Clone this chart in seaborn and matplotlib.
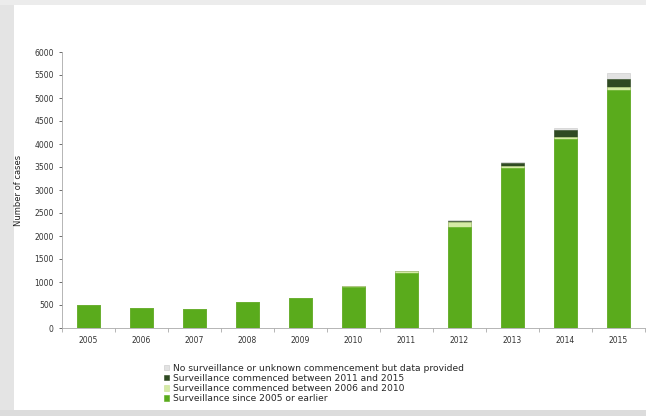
import matplotlib
matplotlib.use("Agg")
import matplotlib.pyplot as plt
import matplotlib.patches as mpatches
import numpy as np
import pandas as pd
import seaborn as sns

years = ["2005", "2006", "2007", "2008", "2009", "2010", "2011", "2012", "2013", "2014", "2015"]
since_2005 = [500, 440, 410, 560, 650, 900, 1200, 2200, 3480, 4100, 5170]
from_2006_2010 = [0, 0, 0, 0, 10, 20, 30, 100, 40, 50, 80]
from_2011_2015 = [0, 0, 0, 0, 0, 0, 20, 30, 70, 150, 160]
no_surveillance = [0, 0, 0, 0, 0, 0, 0, 20, 20, 50, 140]

labels = [
    "Surveillance since 2005 or earlier",
    "Surveillance commenced between 2006 and 2010",
    "Surveillance commenced between 2011 and 2015",
    "No surveillance or unknown commencement but data provided",
]
colors = ["#5aab1c", "#d5eaa6", "#2f4a22", "#e2e2e2"]
edges = ["#5aab1c", "#c8e090", "#2f4a22", "#c8c8c8"]

sns.set_theme(style="ticks")
plt.rcParams["font.family"] = ["DejaVu Sans"]

series = [since_2005, from_2006_2010, from_2011_2015, no_surveillance]
cum = np.cumsum(np.array(series, dtype=float), axis=0)

fig = plt.figure(figsize=(6.46, 4.16), dpi=100)
ax = fig.add_axes([62 / 646, 1 - 328 / 416, (645 - 62) / 646, (328 - 52) / 416])

for i in range(3, -1, -1):
    df = pd.DataFrame({"year": years, "value": cum[i]})
    sns.barplot(data=df, x="year", y="value", order=years, color=colors[i],
                width=0.42, ax=ax, edgecolor=edges[i], linewidth=0.4,
                saturation=1, errorbar=None)

ax.set_ylim(0, 6000)
ax.set_xlim(-0.5, 10.5)
ax.set_yticks(np.arange(0, 6001, 500))
ax.set_yticklabels([str(v) for v in range(0, 6001, 500)])
ax.set_xlabel("")
ax.set_ylabel("Number of cases", fontsize=6, color="#222222", labelpad=8)
ax.tick_params(axis="both", labelsize=5.5, colors="#333333", length=2.5, width=0.5)
ax.tick_params(axis="x", length=0, pad=6)
ax.set_xticks(np.arange(-0.5, 10.6, 1), minor=True)
ax.tick_params(axis="x", which="minor", length=3, width=0.5, color="#999999")
for s in ["top", "right"]:
    ax.spines[s].set_visible(False)
ax.spines["left"].set_color("#aaaaaa")
ax.spines["bottom"].set_color("#aaaaaa")
ax.spines["left"].set_linewidth(0.6)
ax.spines["bottom"].set_linewidth(0.6)

handles = [mpatches.Patch(facecolor=colors[i], edgecolor=edges[i], linewidth=0.4, label=labels[i])
           for i in range(3, -1, -1)]
fig.legend(handles=handles, loc="upper left", bbox_to_anchor=(160 / 646, 1 - 360 / 416),
           frameon=False, fontsize=6.6, handlelength=0.6, handleheight=0.6,
           handletextpad=0.4, labelspacing=0.12, borderaxespad=0)

# page-like border strips
fig.patches.append(mpatches.Rectangle((0, 0), 14 / 646, 1, transform=fig.transFigure,
                                      facecolor="#e4e4e4", edgecolor="none", zorder=-1))
fig.patches.append(mpatches.Rectangle((0, 0), 1, 6 / 416, transform=fig.transFigure,
                                      facecolor="#dcdcdc", edgecolor="none", zorder=-1))
fig.patches.append(mpatches.Rectangle((0, 1 - 5 / 416), 1, 5 / 416, transform=fig.transFigure,
                                      facecolor="#ececec", edgecolor="none", zorder=-1))

fig.savefig("out.png", dpi=100)
